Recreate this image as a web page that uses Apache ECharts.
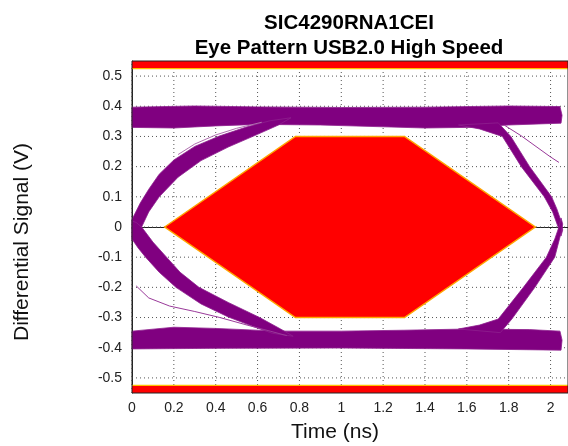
<!DOCTYPE html>
<html>
<head>
<meta charset="utf-8">
<script src="https://cdn.jsdelivr.net/npm/echarts@6/dist/echarts.min.js"></script>
<style>html,body{margin:0;padding:0;background:#fff}#c{width:568px;height:446px}</style>
</head>
<body>
<div id="c"></div>
<script>
// ---- data (time in ns, signal in V) ----
const xTicks = [0, 0.2, 0.4, 0.6, 0.8, 1, 1.2, 1.4, 1.6, 1.8, 2];
const yTicks = [-0.5, -0.4, -0.3, -0.2, -0.1, 0, 0.1, 0.2, 0.3, 0.4, 0.5];
const xRange = [0, 2.0833];
const yRange = [-0.55, 0.55];

// USB2.0 HS eye mask (template)
const maskHexagon = [[0.156, 0], [0.781, 0.3], [1.302, 0.3], [1.927, 0], [1.302, -0.3], [0.781, -0.3]];
const maskTop = [[0, 0.525], [2.0833, 0.525], [2.0833, 0.55], [0, 0.55]];
const maskBottom = [[0, -0.525], [2.0833, -0.525], [2.0833, -0.55], [0, -0.55]];
const maskTopEdge = [[0, 0.525], [2.0833, 0.525]];
const maskBottomEdge = [[0, -0.525], [2.0833, -0.525]];

// eye-trace envelopes
const upperRail = [[0, 0.397], [0.3, 0.401], [0.6, 0.398], [1.0, 0.396], [1.4, 0.397], [1.8, 0.401], [2.045, 0.399], [2.055, 0.37],
  [2.05, 0.344], [1.8, 0.338], [1.6, 0.33], [1.4, 0.328], [1.2, 0.332], [0.9, 0.338], [0.6, 0.34], [0.4, 0.335], [0.2, 0.328], [0, 0.33]];
const lowerRail = [[0, -0.345], [0.2, -0.332], [0.4, -0.336], [0.7, -0.345], [1.0, -0.345], [1.3, -0.342], [1.6, -0.338], [1.9, -0.34], [2.045, -0.345], [2.055, -0.375],
  [2.05, -0.408], [1.6, -0.404], [1.0, -0.401], [0.4, -0.402], [0, -0.404]];
const leftRise = [[0, 0.025], [0.04, 0.08], [0.08, 0.125], [0.13, 0.175], [0.2, 0.222], [0.3, 0.267], [0.42, 0.302], [0.55, 0.332], [0.66, 0.352], [0.76, 0.362],
  [0.7, 0.338], [0.6, 0.307], [0.46, 0.265], [0.33, 0.22], [0.22, 0.165], [0.13, 0.1], [0.08, 0.05], [0.046, 0], [0.02, -0.03], [0, -0.045]];
const leftFall = [[0, -0.04], [0.03, -0.07], [0.065, -0.1], [0.13, -0.15], [0.21, -0.2], [0.33, -0.255], [0.46, -0.298], [0.58, -0.33], [0.67, -0.352], [0.77, -0.362],
  [0.71, -0.338], [0.61, -0.3], [0.46, -0.25], [0.32, -0.2], [0.23, -0.15], [0.165, -0.1], [0.1, -0.05], [0.046, 0], [0.02, 0.015], [0, 0.02]];
const rightFall = [[1.56, 0.338], [1.66, 0.325], [1.77, 0.3], [1.86, 0.2], [1.97, 0.1], [2.01, 0.05], [2.036, 0], [2.05, -0.03],
  [2.058, -0.01], [2.05, 0.02], [2.03, 0.06], [2.005, 0.1], [1.9, 0.2], [1.81, 0.3], [1.75, 0.345]];
const rightRise = [[1.56, -0.338], [1.66, -0.325], [1.75, -0.305], [1.87, -0.2], [1.98, -0.1], [2.02, -0.04], [2.04, 0], [2.05, 0.03],
  [2.058, 0.01], [2.05, -0.02], [2.02, -0.1], [1.925, -0.2], [1.815, -0.305], [1.76, -0.35]];
const strayLow = [[0.02, -0.195], [0.08, -0.235], [0.18, -0.262], [0.3, -0.28], [0.42, -0.3], [0.55, -0.325], [0.66, -0.345], [0.74, -0.36]];
const strayHigh = [[1.78, 0.337], [1.86, 0.302], [1.94, 0.262], [2.0, 0.232], [2.04, 0.214]];
const strayLeftTop = [[0.22, 0.24], [0.3, 0.275], [0.4, 0.305], [0.5, 0.327], [0.62, 0.347]];

// ---- rendering ----
const PURPLE = '#800080';
function polySeries(name, pts, fill, stroke, lw, z) {
  return {
    type: 'custom', name: name, z: z, silent: true,
    data: pts,
    renderItem: function (params, api) {
      if (params.dataIndex !== 0) return null;
      const points = echarts.graphic.clipPointsByRect(pts.map(p => api.coord(p)), params.coordSys);
      return {
        type: 'polygon', shape: { points: points },
        style: { fill: fill, stroke: stroke || null, lineWidth: lw || 0 }
      };
    }
  };
}
function lineSeries(name, pts, color, width, z) {
  return {
    type: 'custom', name: name, z: z, silent: true,
    data: pts,
    renderItem: function (params, api) {
      if (params.dataIndex !== 0) return null;
      const points = echarts.graphic.clipPointsByRect(pts.map(p => api.coord(p)), params.coordSys);
      return { type: 'polyline', shape: { points: points }, style: { fill: null, stroke: color, lineWidth: width } };
    }
  };
}
function gridSeries(values, vertical) {
  return {
    type: 'custom', z: 1, silent: true,
    data: values.map(v => [v]),
    renderItem: function (params, api) {
      const v = api.value(0);
      const a = vertical ? api.coord([v, yRange[0]]) : api.coord([xRange[0], v]);
      const b = vertical ? api.coord([v, yRange[1]]) : api.coord([xRange[1], v]);
      return { type: 'line', shape: { x1: a[0], y1: a[1], x2: b[0], y2: b[1] },
        style: { stroke: '#555', lineWidth: 1, lineDash: [1, 3] } };
    }
  };
}

const chart = echarts.init(document.getElementById('c'), null, { renderer: 'canvas' });
const FONT = 'Liberation Sans, Arial, sans-serif';
chart.setOption({
  animation: false,
  backgroundColor: '#fff',
  title: {
    text: 'SIC4290RNA1CEI\nEye Pattern USB2.0 High Speed',
    left: 344, top: 6, textAlign: 'center',
    textStyle: { fontFamily: FONT, fontSize: 20.5, fontWeight: 'bold', color: '#000', lineHeight: 25 }
  },
  graphic: [
    { type: 'text', x: 335, y: 432, z: 20,
      style: { text: 'Time (ns)', font: '21px ' + FONT, fill: '#111', textAlign: 'center', textVerticalAlign: 'middle' } },
    { type: 'text', x: 22, y: 242, rotation: Math.PI / 2, z: 20,
      style: { text: 'Differential Signal (V)', font: '21px ' + FONT, fill: '#111', textAlign: 'center', textVerticalAlign: 'middle' } }
  ],
  grid: { left: 132, top: 61, width: 439, height: 332, show: true, z: 10,
    borderColor: '#222', borderWidth: 1, backgroundColor: 'transparent' },
  xAxis: {
    type: 'value', min: xRange[0], max: xRange[1],
    axisLine: { show: true, lineStyle: { color: '#222' } },
    axisTick: { show: false },
    splitLine: { show: false },
    axisLabel: { customValues: xTicks, fontFamily: FONT, fontSize: 14, color: '#222', margin: 8,
      formatter: v => String(v) }
  },
  yAxis: {
    type: 'value', min: yRange[0], max: yRange[1],
    axisLine: { show: true, lineStyle: { color: '#222' } },
    axisTick: { show: false },
    splitLine: { show: false },
    axisLabel: { customValues: yTicks, fontFamily: FONT, fontSize: 14, color: '#222', margin: 10,
      formatter: v => String(v) }
  },
  series: [
    gridSeries(xTicks, true),
    gridSeries(yTicks, false),
    polySeries('upperRail', upperRail, PURPLE, '#8e1f8e', 0.8, 3),
    polySeries('lowerRail', lowerRail, PURPLE, '#8e1f8e', 0.8, 3),
    polySeries('leftRise', leftRise, PURPLE, '#8e1f8e', 0.8, 3),
    polySeries('leftFall', leftFall, PURPLE, '#8e1f8e', 0.8, 3),
    polySeries('rightFall', rightFall, PURPLE, '#8e1f8e', 0.8, 3),
    polySeries('rightRise', rightRise, PURPLE, '#8e1f8e', 0.8, 3),
    lineSeries('strayLow', strayLow, '#9a3a9a', 1, 3),
    lineSeries('strayHigh', strayHigh, '#9a3a9a', 1, 3),
    lineSeries('strayLeftTop', strayLeftTop, '#b070b0', 1, 3),
    polySeries('maskHexagon', maskHexagon, '#ff0000', '#ffa500', 1.5, 4),
    polySeries('maskTop', maskTop, '#ff0000', null, 0, 4),
    polySeries('maskBottom', maskBottom, '#ff0000', null, 0, 4),
    lineSeries('maskTopEdge', maskTopEdge, '#ffc000', 1.2, 5),
    lineSeries('maskBottomEdge', maskBottomEdge, '#ffc000', 1.2, 5)
  ]
});
</script>
</body>
</html>
